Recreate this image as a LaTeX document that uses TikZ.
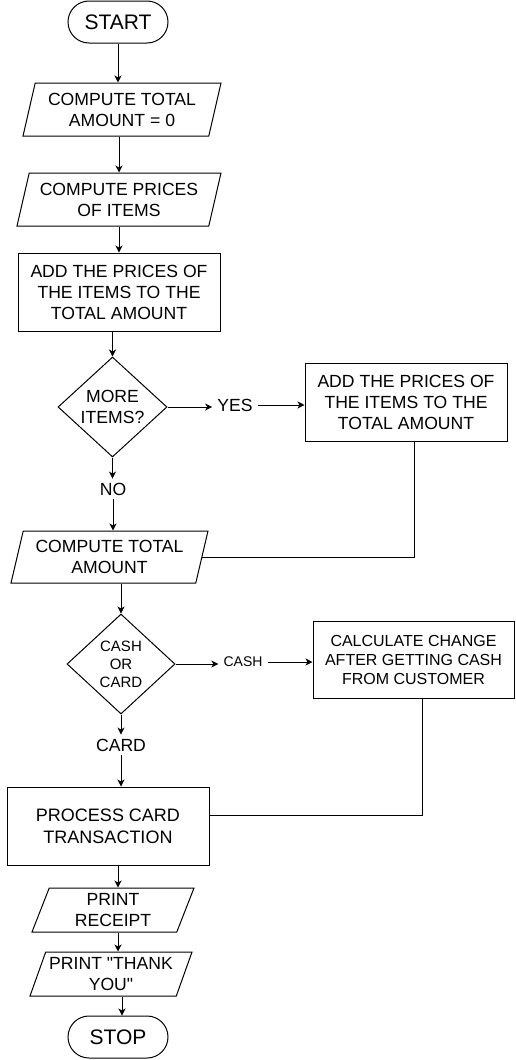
\documentclass[tikz,border=0pt]{standalone}
\usepackage{fontspec}
\setmainfont{Liberation Sans}
\usetikzlibrary{arrows.meta,shapes.geometric,positioning}

\tikzset{
  fcbase/.style={draw, line width=1pt, align=center, inner sep=1pt, font=\fontsize{17.6}{21}\selectfont},
  term/.style={fcbase, rectangle, rounded corners=21pt, minimum width=100pt, minimum height=42pt, font=\fontsize{21}{25}\selectfont},
  io/.style={fcbase, trapezium, trapezium left angle=71, trapezium right angle=109, trapezium stretches body, minimum height=53pt},
  procbox/.style={fcbase, rectangle, minimum width=202pt, minimum height=78pt},
  decide/.style={fcbase, diamond, minimum width=109pt, minimum height=100pt, inner sep=0pt},
  lbl/.style={font=\fontsize{17.6}{21}\selectfont, inner xsep=5pt, inner ysep=4pt},
  arr/.style={-{Stealth[length=7pt,width=7pt,inset=2pt]}, line width=1pt},
  retline/.style={line width=1pt},
}

\begin{document}
\begin{tikzpicture}[x=1pt,y=-1pt]
  \useasboundingbox (0,0) rectangle (515,1060);

  % Start and first inputs
  \node[term] (start) at (118,22) {START};
  \node[io, minimum width=198pt] (ctotz) at (122,109.5) {COMPUTE TOTAL\\AMOUNT = 0};
  \node[io, minimum width=204pt] (cprice) at (119,199.5) {COMPUTE PRICES\\OF ITEMS};
  \node[procbox] (addone) at (119,292) {ADD THE PRICES OF\\THE ITEMS TO THE\\TOTAL AMOUNT};

  % Loop over the items
  \node[decide] (more) at (112.5,407) {MORE\\ITEMS?};
  \node[lbl] (yes) at (235,405) {YES};
  \node[procbox] (addtwo) at (406,402) {ADD THE PRICES OF\\THE ITEMS TO THE\\TOTAL AMOUNT};
  \node[lbl] (no) at (113,489) {NO};
  \node[io, minimum width=197pt, minimum height=52pt] (ctot) at (109.5,557) {COMPUTE TOTAL\\AMOUNT};

  % Payment
  \node[decide, minimum width=108pt, font=\fontsize{15}{18}\selectfont] (paydec) at (121,664) {CASH\\OR\\CARD};
  \node[lbl, font=\fontsize{14}{17}\selectfont] (cashl) at (243,662) {CASH};
  \node[procbox, minimum width=201pt, minimum height=77pt, font=\fontsize{16}{19}\selectfont] (calc) at (413.5,659.5) {CALCULATE CHANGE\\AFTER GETTING CASH\\FROM CUSTOMER};
  \node[lbl] (cardl) at (121,745) {CARD};
  \node[procbox, font=\fontsize{18}{22}\selectfont] (ptx) at (108,826) {PROCESS CARD\\TRANSACTION};

  % Printing and stop
  \node[io, trapezium left angle=64, trapezium right angle=116, minimum width=162pt, minimum height=44pt] (receipt) at (113,910) {PRINT\\RECEIPT};
  \node[io, trapezium left angle=66, trapezium right angle=114, minimum width=162pt, minimum height=44pt] (thanks) at (111,974) {PRINT \textquotedbl THANK\\YOU\textquotedbl};
  \node[term] (stop) at (118,1037) {STOP};

  % Connectors
  \draw[arr] (start) -- (start |- ctotz.north);
  \draw[arr] (cprice.north |- ctotz.south) -- (cprice.north);
  \draw[arr] (cprice) -- (addone);
  \draw[arr] (more.north |- addone.south) -- (more.north);
  \draw[arr] (more) -- (more -| yes.west);
  \draw[arr] (yes) -- (yes -| addtwo.west);
  \draw[arr] (more.south) -- (more.south |- no.north);
  \draw[arr] (no) -- (no |- ctot.north);
  \draw[retline] (addtwo.south) ++(8,0) |- (ctot.east);
  \draw[arr] (paydec.north |- ctot.south) -- (paydec.north);
  \draw[arr] (paydec) -- (paydec -| cashl.west);
  \draw[arr] (cashl) -- (cashl -| calc.west);
  \draw[arr] (paydec.south) -- (paydec.south |- cardl.north);
  \draw[arr] (cardl) -- (cardl |- ptx.north);
  \draw[retline] (calc.south) ++(9,0) |- ([yshift=11pt]ptx.east);
  \draw[arr] ([xshift=10pt]ptx.south) -- ([xshift=10pt]ptx.south |- receipt.north);
  \draw[arr] ([xshift=5pt]receipt.south) -- ([xshift=5pt]receipt.south |- thanks.north);
  \draw[arr] ([xshift=4pt]stop.north |- thanks.south) -- ([xshift=4pt]stop.north);
\end{tikzpicture}
\end{document}
